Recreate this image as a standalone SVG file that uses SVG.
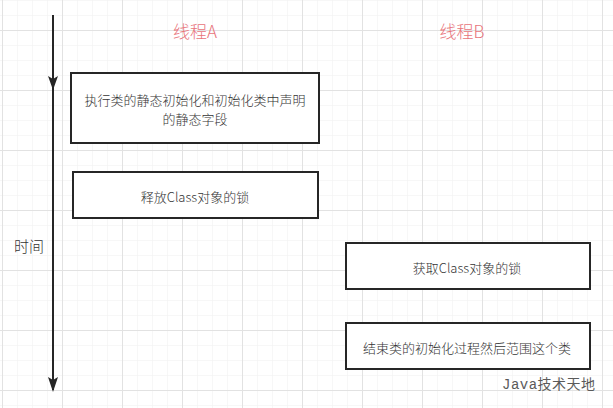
<svg xmlns="http://www.w3.org/2000/svg" width="613" height="408" viewBox="0 0 613 408">
  <defs>
    <pattern id="minor" x="2" y="0" width="15" height="15" patternUnits="userSpaceOnUse">
      <path d="M0 0H15M0 0V15" fill="none" stroke="#f0f0f0" stroke-width="1"/>
    </pattern>
    <pattern id="major" x="2" y="30" width="60" height="60" patternUnits="userSpaceOnUse">
      <path d="M0 0.5H60M0.5 0V60" fill="none" stroke="#e2e2e2" stroke-width="1"/>
    </pattern>
  </defs>
  <style>
    .box { fill: #ffffff; stroke: #262626; stroke-width: 2; }
    .t { font-family: "Noto Sans CJK SC", "Liberation Sans", sans-serif; font-weight: 300; font-size: 13px; fill: #333333; text-anchor: middle; dominant-baseline: central; }
    .title { font-family: "Noto Sans CJK SC", "Liberation Sans", sans-serif; font-weight: 300; font-size: 17px; fill: #e8737a; text-anchor: middle; dominant-baseline: central; }
    .edge { stroke: #262626; stroke-width: 2; fill: none; }
  </style>
  <rect width="613" height="408" fill="#ffffff"/>
  <rect width="613" height="408" fill="url(#minor)"/>
  <rect width="613" height="408" fill="url(#major)"/>

  <g id="connectors">
    <path class="edge" d="M53 15V90"/>
    <path d="M48 76L53 79L58 76L53 90Z" fill="#262626"/>
    <path class="edge" d="M53 90V390"/>
    <path d="M48 377L53 380L58 377L53 392Z" fill="#262626"/>
  </g>

  <g id="label-time">
    <text class="t" x="29" y="245" style="font-size:15px">时间</text>
  </g>
  <g id="title-a">
    <text class="title" x="195" y="30">线程A</text>
  </g>
  <g id="title-b">
    <text class="title" x="462" y="30">线程B</text>
  </g>

  <g id="node1">
    <rect class="box" x="71" y="73" width="248" height="70"/>
    <text class="t" x="195" y="99">执行类的静态初始化和初始化类中声明</text>
    <text class="t" x="195" y="118">的静态字段</text>
  </g>
  <g id="node2">
    <rect class="box" x="73" y="172" width="245" height="46"/>
    <text class="t" x="195" y="196">释放Class对象的锁</text>
  </g>
  <g id="node3">
    <rect class="box" x="346" y="243" width="244" height="46"/>
    <text class="t" x="467" y="267">获取Class对象的锁</text>
  </g>
  <g id="node4">
    <rect class="box" x="346" y="323" width="244" height="46"/>
    <text class="t" x="467" y="347">结束类的初始化过程然后范围这个类</text>
  </g>

  <g id="watermark">
    <text x="502" y="385" style="font-family:'Liberation Mono','Noto Sans CJK SC',monospace;font-size:14px;fill:#5a5a5a;dominant-baseline:central;letter-spacing:0.5px">Java技术天地</text>
  </g>
</svg>
